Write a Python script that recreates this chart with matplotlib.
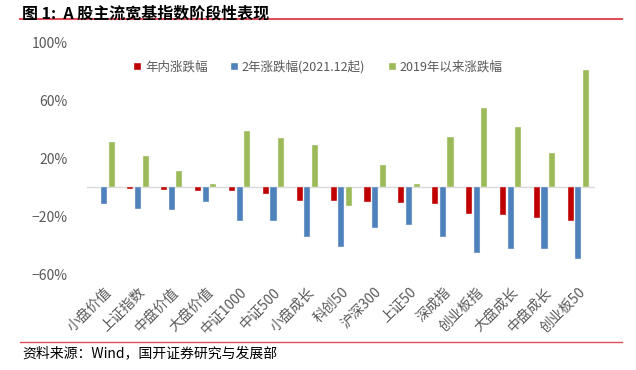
#imports
import numpy as np
import matplotlib.pyplot as plt
from matplotlib.ticker import PercentFormatter

plt.rcParams['font.family'] = ['Noto Sans CJK SC', 'DejaVu Sans']

#data [%]
names = ["小盘价值", "上证指数", "中盘价值", "大盘价值", "中证1000", "中证500", "小盘成长",
         "科创50", "沪深300", "上证50", "深成指", "创业板指", "大盘成长", "中盘成长", "创业板50"]
ytd = [0.0, -1.6, -2.0, -2.3, -2.6, -5.0, -9.4, -9.8, -10.1, -10.8, -11.7, -18.2, -19.1, -21.4, -23.0]
two_year = [-11.7, -15.3, -16.0, -10.0, -23.5, -23.0, -34.2, -41.4, -28.5, -26.2, -34.7, -45.3, -42.3, -42.3, -49.7]
since2019 = [31.0, 21.6, 11.0, 2.5, 38.6, 33.8, 29.0, -13.2, 15.6, 2.5, 34.5, 54.3, 41.8, 23.4, 80.7]

labels = ["年内涨跌幅", "2年涨跌幅(2021.12起)", "2019年以来涨跌幅"]
colors = ["#C00000", "#4F81BD", "#9BBB59"]

fig = plt.figure(figsize=(6.36, 3.70), dpi=100)
ax = fig.add_axes([0.137, 0.259, 0.799, 0.627])

x = np.arange(len(names))
w = 0.18
step = 0.225
for i, (vals, lab, c) in enumerate(zip([ytd, two_year, since2019], labels, colors)):
	ax.bar(x + (i - 1) * step, vals, w, color=c, label=lab, edgecolor='#F2F2F2', linewidth=0.3)

ax.axhline(0, color='#D9D9D9', lw=1.0, zorder=0)
ax.set_xlim(-0.5, len(names) - 0.5)
ax.set_ylim(-60, 100)
ax.set_yticks([-60, -20, 20, 60, 100])
ax.yaxis.set_major_formatter(PercentFormatter(decimals=0))
for s in ax.spines.values():
	s.set_visible(False)
ax.tick_params(axis='both', length=0, colors='#595959', labelsize=10)
ax.tick_params(axis='y', pad=14)
ax.set_xticks(x)
ax.set_xticklabels(names, rotation=45, ha='right', rotation_mode='anchor', fontsize=10)
ax.tick_params(axis='x', pad=8)

leg = ax.legend(loc='upper center', bbox_to_anchor=(0.455, 0.97), ncol=3, frameon=False,
	fontsize=9, handlelength=0.55, handleheight=0.55, handletextpad=0.3, columnspacing=1.9)
for t in leg.get_texts():
	t.set_color('#595959')

#title and source
fig.text(0.035, 0.962, "图 1:  A 股主流宽基指数阶段性表现", fontsize=11.5, fontweight='bold', va='center')
fig.add_artist(plt.Line2D([0.032, 0.978], [0.95, 0.95], color='#E0505A', lw=1.5))
fig.add_artist(plt.Line2D([0.032, 0.978], [0.076, 0.076], color='#E0505A', lw=1.0))
fig.text(0.035, 0.045, "资料来源：Wind，国开证券研究与发展部", fontsize=10, va='center')

plt.savefig("out.png", dpi=100)
